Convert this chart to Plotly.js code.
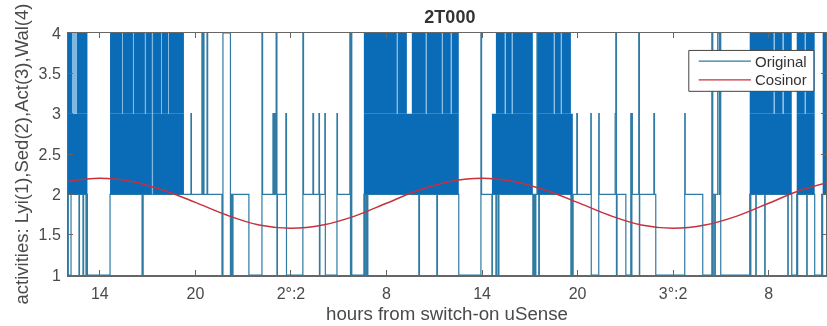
<!DOCTYPE html>
<html><head><meta charset="utf-8">
<script src="https://cdn.plot.ly/plotly-3.0.1.min.js"></script>
<style>html,body{margin:0;padding:0;background:#fff}#c{width:827px;height:326px;filter:blur(0.35px)}</style>
</head><body><div id="c"></div>
<script>
const tickHours=[14,20,26,32,38,44,50,56];
const tickLabels=["14","20","2°:2","8","14","20","3°:2","8"];
const levelTicks=[1,1.5,2,2.5,3,3.5,4];
const levelLabels=["1","1.5","2","2.5","3","3.5","4"];

const stepHours=[12,12.02,12.19,12.69,12.72,12.94,12.98,13.13,13.16,13.22,14.64,16.65,16.72,19.72,19.75,20.41,20.45,20.5,20.54,20.73,20.77,21.67,21.73,22.2,22.25,22.3,22.36,23.36,24.18,24.22,24.87,24.92,24.97,25.02,25.07,25.12,25.15,25.68,25.72,26.75,26.79,27.38,27.42,27.76,27.79,27.82,28.13,28.16,28.89,28.92,29.7,29.74,29.78,29.82,30.58,30.6,30.64,30.72,30.76,30.8,30.83,34.03,34.07,35.16,35.2,36.54,37.93,37.97,38.62,38.65,38.87,38.9,39,39.06,41.19,41.25,41.32,41.38,41.45,41.5,41.56,41.6,43.58,43.63,43.68,43.72,43.95,43.99,44.83,44.86,45.33,45.36,46.36,46.4,46.44,46.48,47.03,47.34,47.38,47.41,47.44,47.84,47.88,47.9,48.79,48.83,48.91,50.73,50.76,51.86,52.43,52.49,52.52,52.61,52.65,52.8,52.9,52.95,52.99,54.81,54.85,54.88,55.19,55.22,55.75,55.78,57.2,57.23,57.45,57.76,57.79,57.82,58.39,58.42,58.89,59.33,59.36,59.39,59.65];
const stepLevels=[2,1,2,1,2,1,2,1,2,1,2,1,2,3,2,4,2,4,2,4,2,1,4,1,2,1,2,1,4,2,3,2,3,2,4,1,2,3,1,4,2,3,2,3,1,2,3,1,3,2,4,1,4,1,2,1,2,1,2,1,2,1,2,1,2,1,4,2,1,2,1,2,1,2,1,2,1,2,4,2,1,2,1,2,1,2,3,2,3,1,3,2,3,4,1,2,1,3,1,3,2,4,1,2,3,2,1,3,2,1,4,1,2,1,2,4,2,4,1,2,1,2,1,2,1,2,1,2,1,2,1,2,1,2,1,2,1,2,2];

const denseLower=[[12,13.22],[14.64,17.27],[17.34,19.28],[30.58,36.54],[38.62,41.19],[41.5,43.7],[54.81,57.45],[57.76,58.89],[59.39,59.65]];
const denseUpper=[[12,12.25],[12.56,13.22],[14.64,15.39],[15.45,16.08],[16.14,16.83],[16.9,17.27],[17.34,17.84],[17.9,18.28],[18.34,19.28],[30.58,32.65],[32.72,33.28],[33.59,34.47],[34.54,35.48],[35.54,36.04],[36.1,36.54],[38.87,39.43],[39.49,39.87],[39.94,41.19],[41.5,42.51],[42.57,42.95],[43.01,43.58],[54.81,56.32],[56.38,56.88],[56.95,57.45],[57.76,58.27],[58.33,58.89],[59.39,59.65]];
const upperGaps=[[12.25,12.56],[15.39,15.45],[16.08,16.14],[16.83,16.9],[17.27,17.34],[17.84,17.9],[18.28,18.34],[32.65,32.72],[34.47,34.54],[35.48,35.54],[36.04,36.1],[39.43,39.49],[39.87,39.94],[42.51,42.57],[42.95,43.01],[56.32,56.38],[56.88,56.95],[58.27,58.33]];
const lowerGaps=[[17.27,17.34]];

const cosinorHours=[12,14,16,18,20,22,24,26,28,30,32,34,36,38,40,42,44,46,48,50,52,54,56,58,60];
const cosinorValues=[2.16,2.2,2.16,2.05,1.9,1.74,1.62,1.58,1.62,1.73,1.89,2.05,2.16,2.2,2.16,2.05,1.9,1.74,1.62,1.58,1.62,1.73,1.89,2.05,2.16];

const blue='#0a6bb6', thin='#2f7ba3', gap='#7db8e2', ink='#4a4a4a', red='#c8303c';
function band(blocks,lo,hi,color){
  const x=[],y=[];
  blocks.forEach(b=>{x.push(b[0],b[0],b[1],b[1],null);y.push(lo,hi,hi,lo,null);});
  return {x,y,type:'scatter',mode:'lines',fill:'toself',fillcolor:color,line:{width:0,color:color},showlegend:false,hoverinfo:'skip'};
}
const traces=[
 {x:stepHours,y:stepLevels,name:'Original',type:'scatter',mode:'lines',line:{color:thin,width:1.2,shape:'hv'}},
 band(denseLower,2,3,blue),
 band(denseUpper,3,4,blue),
 band(upperGaps,3,4,gap),
 band(lowerGaps,2,3,gap),
 {x:cosinorHours,y:cosinorValues,name:'Cosinor',type:'scatter',mode:'lines',line:{color:red,width:1.5,shape:'spline'}}
];
const font={family:'"Liberation Sans",Arial,sans-serif',color:ink,size:16};
// legend key, placed in plot-fraction coordinates
const keyBox={x0:0.819,x1:0.984,y0:0.759,y1:0.928};
const keyLine={x0:0.832,x1:0.901};
const keyRows=[{label:'Original',y:0.884,color:thin},{label:'Cosinor',y:0.806,color:red}];
const layout={
 width:827,height:326,margin:{l:68,r:1,t:33,b:51},showlegend:false,
 paper_bgcolor:'#fff',plot_bgcolor:'#fff',font,
 title:{text:'<b>2T000</b>',font:{size:18,color:'#333',family:font.family},x:0.544,xanchor:'center',y:0.948,yanchor:'middle'},
 xaxis:{range:[12,59.6],tickmode:'array',tickvals:tickHours,ticktext:tickLabels,ticks:'inside',ticklen:5,tickcolor:'#666',tickwidth:1,ticklabelstandoff:3,layer:'above traces',
  showline:true,linecolor:'#666',linewidth:1.5,mirror:'allticks',showgrid:false,zeroline:false,tickfont:{size:16},
  title:{text:'hours from switch-on uSense',font:{size:18.7},standoff:6}},
 yaxis:{range:[1,4],tickmode:'array',tickvals:levelTicks,ticktext:levelLabels,ticks:'inside',ticklen:5,tickcolor:'#666',tickwidth:1,ticklabelstandoff:3,layer:'above traces',
  showline:true,linecolor:'#666',linewidth:1,mirror:'allticks',showgrid:false,zeroline:false,tickfont:{size:16},
  title:{text:'activities: Lyi(1),Sed(2),Act(3),Wal(4)',font:{size:18.5},standoff:5}},
 shapes:[
  {type:'rect',xref:'x domain',yref:'y domain',...keyBox,fillcolor:'#fff',line:{color:'#444',width:1},layer:'above'},
  ...keyRows.map(r=>({type:'line',xref:'x domain',yref:'y domain',x0:keyLine.x0,x1:keyLine.x1,y0:r.y,y1:r.y,line:{color:r.color,width:1.3},layer:'above'}))
 ],
 annotations:keyRows.map(r=>({xref:'x domain',yref:'y domain',x:0.904,y:r.y,xanchor:'left',yanchor:'middle',showarrow:false,text:r.label,font:{size:15,color:'#333'}}))
};
Plotly.newPlot('c',traces,layout,{displayModeBar:false,staticPlot:true});
</script></body></html>
